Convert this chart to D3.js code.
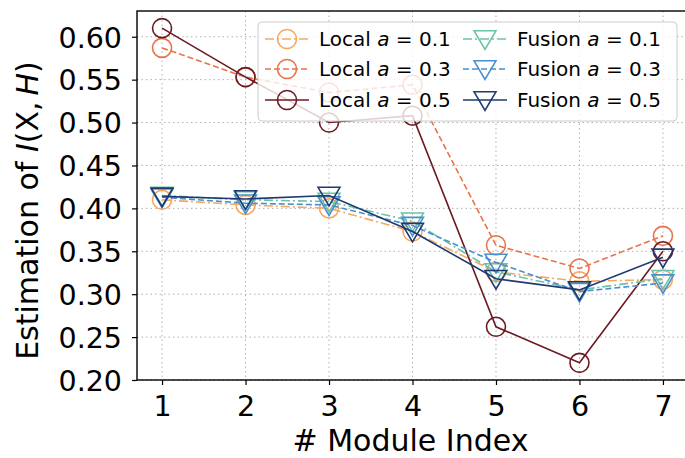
<!DOCTYPE html>
<html>
<head>
<meta charset="utf-8">
<script src="https://cdn.jsdelivr.net/npm/d3@7"></script>
<style>
  body { margin: 0; background: #fff; }
  text { font-family: "DejaVu Sans", sans-serif; }
</style>
</head>
<body>
<script>
// Data
var modules = [1, 2, 3, 4, 5, 6, 7];
var localA01 = [0.410, 0.404, 0.400, 0.373, 0.326, 0.315, 0.317];
var localA03 = [0.587, 0.553, 0.535, 0.544, 0.357, 0.330, 0.368];
var localA05 = [0.610, 0.553, 0.500, 0.508, 0.262, 0.220, 0.350];
var fusionA01 = [0.415, 0.410, 0.408, 0.385, 0.326, 0.305, 0.318];
var fusionA03 = [0.413, 0.406, 0.404, 0.380, 0.337, 0.303, 0.313];
var fusionA05 = [0.414, 0.411, 0.415, 0.373, 0.318, 0.305, 0.343];
var yTicks = [0.20, 0.25, 0.30, 0.35, 0.40, 0.45, 0.50, 0.55, 0.60];

var series = [
  {kind: "Local", a: "0.1", values: localA01, color: "#f5a95f", dash: "9,3,2,3", marker: "circle"},
  {kind: "Local", a: "0.3", values: localA03, color: "#e8734b", dash: "6,3", marker: "circle"},
  {kind: "Local", a: "0.5", values: localA05, color: "#6b1a22", dash: null, marker: "circle"},
  {kind: "Fusion", a: "0.1", values: fusionA01, color: "#6cc2a4", dash: "9,3,2,3", marker: "tri"},
  {kind: "Fusion", a: "0.3", values: fusionA03, color: "#4a8fcc", dash: "6,3", marker: "tri"},
  {kind: "Fusion", a: "0.5", values: fusionA05, color: "#1f3a72", dash: null, marker: "tri"}
];

var W = 685, H = 458;
var margin = {top: 11, right: -3, bottom: 78, left: 137};
var width = W - margin.left - margin.right,
    height = H - margin.top - margin.bottom;

var svg = d3.select("body").append("svg")
            .attr("width", W).attr("height", H);
var g = svg.append("g")
           .attr("transform", "translate(" + margin.left + "," + margin.top + ")");

var x = d3.scaleLinear().domain([0.7, 7.3]).range([0, width]);
var y = d3.scaleLinear().domain([0.2, 0.63]).range([height, 0]);

// Grid
g.append("g").selectAll("line").data(modules).enter().append("line")
 .attr("x1", function(d) { return x(d); }).attr("x2", function(d) { return x(d); })
 .attr("y1", 0).attr("y2", height)
 .attr("stroke", "#b0b0b0").attr("stroke-width", 1).attr("stroke-dasharray", "1.5,3");
g.append("g").selectAll("line").data(yTicks).enter().append("line")
 .attr("x1", 0).attr("x2", width)
 .attr("y1", function(d) { return y(d); }).attr("y2", function(d) { return y(d); })
 .attr("stroke", "#b0b0b0").attr("stroke-width", 1).attr("stroke-dasharray", "1.5,3");

// Lines and markers
var line = d3.line()
  .x(function(d, i) { return x(modules[i]); })
  .y(function(d) { return y(d); });

function drawMarker(sel, s, cx, cy, r) {
  if (s.marker === "circle") {
    sel.append("circle").attr("cx", cx).attr("cy", cy).attr("r", r)
       .attr("fill", "none").attr("stroke", s.color).attr("stroke-width", 1.6);
  } else {
    var t = r * 1.15;
    sel.append("path")
       .attr("d", "M" + (cx - t) + "," + (cy - t * 0.75) + "L" + (cx + t) + "," + (cy - t * 0.75) +
                  "L" + cx + "," + (cy + t * 0.95) + "Z")
       .attr("fill", "none").attr("stroke", s.color).attr("stroke-width", 1.6)
       .attr("stroke-linejoin", "miter");
  }
}

series.forEach(function(s) {
  var sg = g.append("g");
  sg.append("path").datum(s.values)
    .attr("d", line)
    .attr("fill", "none").attr("stroke", s.color).attr("stroke-width", 1.6)
    .attr("stroke-dasharray", s.dash);
  s.values.forEach(function(v, i) {
    drawMarker(sg, s, x(modules[i]), y(v), 9.5);
  });
});

// Axes
var xAxis = d3.axisBottom(x).tickValues(modules).tickSize(5).tickPadding(4)
  .tickFormat(d3.format("d"));
var yAxis = d3.axisLeft(y).tickValues(yTicks).tickSize(5).tickPadding(10)
  .tickFormat(d3.format(".2f"));

var gx = g.append("g").attr("transform", "translate(0," + height + ")").call(xAxis);
var gy = g.append("g").call(yAxis);
[gx, gy].forEach(function(ax) {
  ax.select(".domain").remove();
  ax.selectAll(".tick line").attr("stroke", "#000").attr("stroke-width", 1.2);
  ax.selectAll(".tick text").attr("fill", "#000").style("font-size", "28.5px")
    .style("font-family", "DejaVu Sans");
});
gx.selectAll(".tick text").attr("dy", "0.95em");
gy.selectAll(".tick text").attr("dy", "0.36em");

// Spines
g.append("rect").attr("x", 0).attr("y", 0).attr("width", width).attr("height", height)
 .attr("fill", "none").attr("stroke", "#000").attr("stroke-width", 1.4);

// Axis labels
svg.append("text")
   .attr("x", margin.left + x(4) - 2).attr("y", 451)
   .attr("text-anchor", "middle").style("font-size", "30px")
   .text("# Module Index");

var yl = svg.append("text")
   .attr("transform", "translate(38," + (margin.top + height / 2 + 15) + ") rotate(-90)")
   .attr("text-anchor", "middle").style("font-size", "30px");
yl.append("tspan").text("Estimation of ");
yl.append("tspan").style("font-style", "italic").text("I");
yl.append("tspan").text("(X,\u2009");
yl.append("tspan").style("font-style", "italic").text("H");
yl.append("tspan").text(")");

// Legend
var lg = svg.append("g");
lg.append("rect").attr("x", 258).attr("y", 22).attr("width", 419).attr("height", 99)
  .attr("rx", 4).attr("fill", "#fff").attr("fill-opacity", 0.8)
  .attr("stroke", "#cccccc").attr("stroke-width", 1);

var colX = [265, 463], rowY = [39, 69, 100];
series.forEach(function(s, i) {
  var cx = colX[Math.floor(i / 3)], cy = rowY[i % 3];
  lg.append("line").attr("x1", cx).attr("x2", cx + 44).attr("y1", cy).attr("y2", cy)
    .attr("stroke", s.color).attr("stroke-width", 1.6).attr("stroke-dasharray", s.dash);
  drawMarker(lg, s, cx + 22, cy, 9.5);
  var t = lg.append("text").attr("x", cx + 54).attr("y", cy).attr("dy", "0.36em")
    .style("font-size", "20px");
  t.append("tspan").text(s.kind + " ");
  t.append("tspan").style("font-style", "italic").text("a");
  t.append("tspan").text(" = " + s.a);
});
</script>
</body>
</html>
